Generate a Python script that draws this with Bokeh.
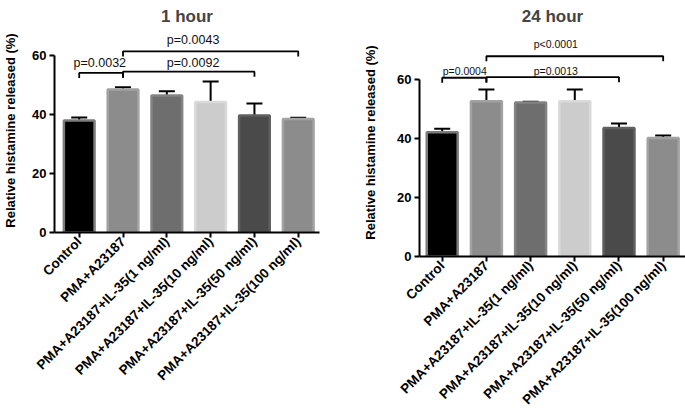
import math
from bokeh.plotting import figure
from bokeh.models import ColumnDataSource, Whisker, TeeHead, FixedTicker, Range1d
from bokeh.layouts import row
from bokeh.embed import file_html
from bokeh.resources import INLINE
from bokeh.core.properties import value

FONT = "Liberation Sans"

categories = ["Control", "PMA+A23187", "PMA+A23187+IL-35(1 ng/ml)",
              "PMA+A23187+IL-35(10 ng/ml)", "PMA+A23187+IL-35(50 ng/ml)",
              "PMA+A23187+IL-35(100 ng/ml)"]
fills = ["#000000", "#8c8c8c", "#6e6e6e", "#cccccc", "#4a4a4a", "#8c8c8c"]
borders = ["#7c7c7c", "#a2a2a2", "#848484", "#dadada", "#606060", "#a2a2a2"]

mean_1h = [38.0, 48.5, 46.4, 44.2, 39.7, 38.5]
err_1h = [1.0, 0.7, 1.5, 7.0, 4.0, 0.4]
mean_24h = [42.1, 52.6, 52.2, 52.6, 43.6, 40.2]
err_24h = [1.2, 4.0, 0.3, 4.0, 1.5, 0.8]

y_ticks = [0, 20, 40, 60]

# comparison brackets
br_1h_from = [0, 1, 1]
br_1h_to = [1, 4, 5]
br_1h_y = [54.1, 54.5, 61.4]
br_1h_label = ["p=0.0032", "p=0.0092", "p=0.0043"]
br_1h_label_x = [0.47, 2.6, 2.6]
br_1h_label_y = [57.6, 57.6, 65.1]

br_24h_from = [0, 1, 1]
br_24h_to = [1, 4, 5]
br_24h_y = [60.6, 60.8, 67.9]
br_24h_label = ["p=0.0004", "p=0.0013", "p<0.0001"]
br_24h_label_x = [0.51, 2.57, 2.57]
br_24h_label_y = [63.05, 63.05, 72.1]

LEG = 1.7


def panel(title, means, errs, bfrom, bto, by, blabel, blx, bly,
          width, height, bl, br, bb, x_start, x_end, y_end, pfont, ylab_standoff):
    p = figure(width=width, height=height, output_backend="svg", toolbar_location=None,
               x_range=Range1d(x_start, x_end), y_range=Range1d(0, y_end),
               min_border_left=bl, min_border_right=br, min_border_top=28,
               min_border_bottom=bb)
    p.outline_line_color = None
    p.xgrid.visible = False
    p.ygrid.visible = False
    p.title.text = title
    p.title.align = "center"
    p.title.text_font = FONT
    p.title.text_font_size = "17px"
    p.title.text_font_style = "bold"
    p.title.standoff = 6

    xs = list(range(len(categories)))
    src = ColumnDataSource(dict(x=xs, top=means, fill=fills, border=borders,
                                lower=means, upper=[m + e for m, e in zip(means, errs)]))
    p.vbar(x="x", top="top", width=0.7, source=src, fill_color="fill",
           line_color="border", line_width=2.5)
    p.add_layout(Whisker(base="x", lower="lower", upper="upper", source=src,
                         dimension="height", line_width=2, line_color="black",
                         lower_head=None,
                         upper_head=TeeHead(size=16, line_width=2, line_color="black")))

    bxs = [[a, a, b, b] for a, b in zip(bfrom, bto)]
    bys = [[h - LEG, h, h, h - LEG] for h in by]
    p.multi_line(xs=bxs, ys=bys, line_color="black", line_width=1.8)
    p.text(x=blx, y=bly, text=blabel, text_align="center", text_baseline="middle",
           text_font=value(FONT), text_font_size=value(pfont), text_color="#111111")

    for ax in (p.xaxis[0], p.yaxis[0]):
        ax.axis_line_width = 2
        ax.major_tick_line_width = 2
        ax.major_tick_out = 5
        ax.major_tick_in = 0
        ax.minor_tick_line_color = None
        ax.major_label_text_font = FONT
        ax.major_label_text_font_size = "13px"
        ax.major_label_text_font_style = "bold"
        ax.major_label_text_color = "black"
    p.xaxis.ticker = FixedTicker(ticks=xs)
    p.xaxis.major_label_overrides = {i: c for i, c in enumerate(categories)}
    p.xaxis.major_label_orientation = math.pi / 4
    p.xaxis.major_label_text_font_size = "13.5px"
    p.xaxis.major_label_standoff = 2
    p.yaxis.ticker = FixedTicker(ticks=y_ticks)
    p.yaxis.bounds = (0, 60)
    p.yaxis.major_label_standoff = 3
    p.yaxis.axis_label = "Relative histamine released (%)"
    p.yaxis.axis_label_text_font = FONT
    p.yaxis.axis_label_text_font_size = "13px"
    p.yaxis.axis_label_text_font_style = "bold"
    p.yaxis.axis_label_text_color = "black"
    p.yaxis.axis_label_standoff = ylab_standoff
    return p


p1 = panel("1 hour", mean_1h, err_1h, br_1h_from, br_1h_to, br_1h_y, br_1h_label,
           br_1h_label_x, br_1h_label_y, 343, 394, 51, 24, 162, -0.564, 5.485, 69.15,
           "12.5px", 11)
p2 = panel("24 hour", mean_24h, err_24h, br_24h_from, br_24h_to, br_24h_y, br_24h_label,
           br_24h_label_x, br_24h_label_y, 342, 418, 76, 0, 162, -0.514, 5.505, 77.3,
           "10.5px", 16)

layout = row(p1, p2)
open("out.html", "w").write(file_html(layout, INLINE))
